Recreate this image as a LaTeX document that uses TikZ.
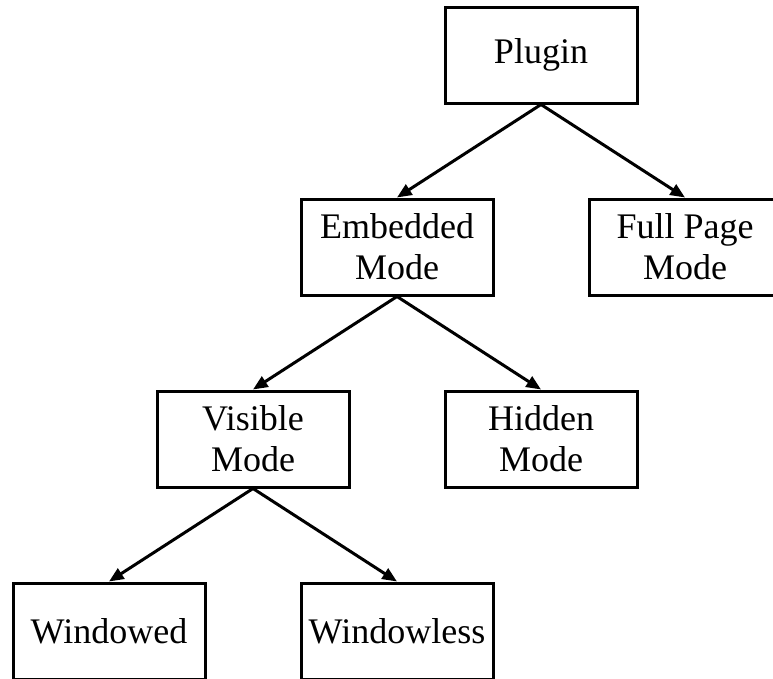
\documentclass[tikz,border=0pt]{standalone}
\usepackage{fontspec}
\setmainfont{Liberation Serif}
\usetikzlibrary{arrows.meta}
\tikzset{
  modebox/.style={draw, line width=2.25pt, minimum width=144pt, minimum height=72pt,
    inner sep=0pt, align=center, font=\fontsize{27}{30.75}\selectfont},
  link/.style={line width=2.25pt, -{Triangle[length=11pt,width=9pt]}}
}
\begin{document}
\begin{tikzpicture}[x=0.75pt,y=-0.75pt]
  \clip (0,0) rectangle (773,678);
  \node[modebox] (plugin)     at (541,55)  {Plugin};
  \node[modebox] (embedded)   at (397,247) {Embedded\\Mode};
  \node[modebox] (fullpage)   at (685,247) {Full Page\\Mode};
  \node[modebox] (visible)    at (253,439) {Visible\\Mode};
  \node[modebox] (hidden)     at (541,439) {Hidden\\Mode};
  \node[modebox] (windowed)   at (109,631) {Windowed};
  \node[modebox] (windowless) at (397,631) {Windowless};
  \draw[link] (plugin.south)   -- (embedded.north);
  \draw[link] (plugin.south)   -- (fullpage.north);
  \draw[link] (embedded.south) -- (visible.north);
  \draw[link] (embedded.south) -- (hidden.north);
  \draw[link] (visible.south)  -- (windowed.north);
  \draw[link] (visible.south)  -- (windowless.north);
\end{tikzpicture}
\end{document}
